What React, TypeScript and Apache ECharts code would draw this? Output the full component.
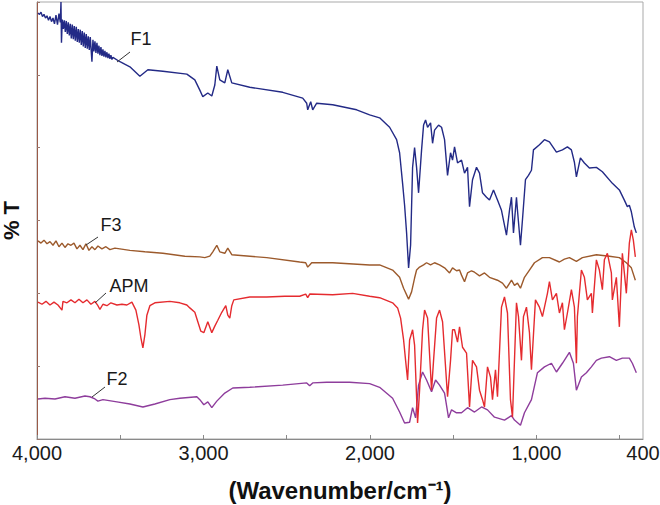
import React, { useEffect, useRef } from 'react';
import * as echarts from 'echarts';

// x = wavenumber (cm-1), y = %T (arbitrary offset units)
const xTickValues = [4000, 3500, 3000, 2500, 2000, 1500, 1000, 500];
const xLabelValues = [4000, 3000, 2000, 1000, 360];
const seriesNames = ['F1', 'F3', 'APM', 'F2'];

const f1Data: [number, number][] = [
  [3994, 58.5], [3985, 58.3], [3976, 58.6], [3967, 58.0], [3958, 58.3], [3949, 57.8], [3940, 58.1],
  [3931, 57.5], [3922, 58.0], [3913, 57.3], [3904, 57.8], [3895, 57.0], [3886, 58.2], [3877, 56.9],
  [3868, 58.4], [3860, 57.2], [3856, 60.0], [3853, 54.4], [3848, 57.6], [3842, 56.3], [3836, 57.5],
  [3830, 55.9], [3824, 57.4], [3818, 55.6], [3812, 57.2], [3806, 55.4], [3800, 57.0], [3794, 55.0],
  [3788, 56.9], [3782, 54.9], [3776, 56.7], [3770, 54.7], [3764, 56.6], [3758, 54.5], [3752, 56.3],
  [3746, 54.4], [3740, 56.2], [3734, 54.1], [3728, 56.0], [3722, 53.9], [3716, 55.8], [3710, 53.7],
  [3704, 55.6], [3698, 53.6], [3692, 55.3], [3686, 53.4], [3680, 55.2], [3670, 51.8], [3664, 54.8],
  [3658, 53.2], [3652, 54.6], [3646, 53.0], [3640, 54.4], [3634, 52.9], [3628, 54.0], [3622, 52.7],
  [3616, 53.8], [3610, 52.6], [3604, 53.5], [3598, 52.5], [3592, 53.3], [3586, 52.4], [3580, 53.1],
  [3574, 52.3], [3568, 52.9], [3562, 52.2], [3556, 52.7], [3550, 52.1], [3544, 52.4],
  [3502, 51.8], [3442, 51.1], [3382, 49.8], [3334, 50.7], [3244, 50.5],
  [3100, 50.1], [3052, 49.3], [3022, 47.9], [3004, 47.0], [2974, 47.5], [2950, 47.1], [2932, 48.6],
  [2920, 51.2], [2902, 49.3], [2872, 48.9], [2854, 50.7], [2830, 48.9], [2722, 48.3], [2524, 47.6],
  [2404, 46.8], [2380, 46.1], [2374, 45.2], [2356, 46.3], [2344, 45.2], [2320, 46.1], [2224, 45.9],
  [2080, 45.2], [2002, 44.5], [1942, 44.1], [1882, 42.8], [1840, 41.1], [1822, 39.3], [1804, 35.1],
  [1792, 32.1], [1780, 28.3], [1768, 23.5], [1756, 26.6], [1744, 37.3], [1732, 40.0], [1720, 37.3],
  [1708, 33.8], [1690, 39.7], [1678, 43.1], [1666, 43.8], [1654, 42.8], [1636, 43.4], [1624, 40.6],
  [1612, 42.4], [1588, 43.1], [1570, 42.8], [1552, 41.1], [1534, 36.2], [1516, 39.3], [1504, 38.3],
  [1492, 40.1], [1474, 37.9], [1450, 38.3], [1432, 36.5], [1414, 37.3], [1402, 31.9], [1384, 35.6],
  [1360, 37.3], [1342, 36.5], [1324, 33.8], [1300, 33.2], [1282, 32.8], [1258, 34.2], [1234, 32.8],
  [1210, 31.4], [1180, 28.0], [1162, 31.4], [1150, 33.2], [1138, 28.3], [1120, 33.2], [1114, 31.4],
  [1096, 26.6], [1084, 30.1], [1066, 35.6], [1048, 36.2], [1030, 36.9], [1018, 39.7], [982, 40.4],
  [952, 41.1], [922, 40.8], [880, 39.4], [844, 39.7], [814, 40.1], [790, 39.7], [772, 38.0],
  [760, 36.0], [736, 38.6], [712, 37.9], [682, 37.2], [640, 37.3], [604, 36.7], [544, 35.1],
  [502, 34.2], [472, 32.8], [454, 31.9], [442, 32.1], [430, 31.2], [412, 29.1], [400, 28.3],
];

const f3Data: [number, number][] = [
  [3994, 27.2], [3976, 26.9], [3958, 27.3], [3940, 26.8], [3922, 27.1], [3904, 26.6], [3886, 27.2],
  [3868, 26.4], [3850, 26.9], [3832, 26.3], [3814, 26.8], [3796, 26.6], [3778, 26.9], [3760, 26.1],
  [3742, 26.6], [3724, 26.0], [3706, 26.8], [3688, 25.9], [3670, 26.4], [3652, 26.0], [3634, 26.5],
  [3610, 26.1], [3586, 26.4], [3562, 26.0], [3532, 26.2], [3502, 26.1], [3442, 25.9], [3352, 25.7],
  [3244, 25.5], [3112, 25.1], [3022, 25.0], [2992, 24.9], [2962, 25.1], [2944, 25.7], [2920, 26.6],
  [2902, 25.7], [2872, 25.5], [2854, 26.2], [2830, 25.3], [2620, 24.9], [2422, 24.3], [2386, 24.2],
  [2374, 23.6], [2362, 23.9], [2350, 24.2], [2224, 24.2], [2002, 23.9], [1942, 23.9], [1864, 23.2],
  [1822, 22.2], [1798, 20.7], [1768, 19.2], [1750, 20.2], [1732, 22.1], [1720, 23.2], [1702, 23.6],
  [1678, 23.9], [1660, 24.2], [1636, 23.9], [1612, 24.2], [1582, 23.9], [1552, 23.5], [1522, 22.8],
  [1504, 23.5], [1480, 23.1], [1462, 23.2], [1450, 22.5], [1432, 21.6], [1414, 22.8], [1390, 23.1],
  [1372, 22.9], [1342, 22.4], [1312, 22.8], [1282, 22.2], [1234, 21.8], [1204, 21.4], [1180, 20.7],
  [1150, 21.8], [1132, 21.1], [1114, 21.4], [1096, 20.7], [1072, 22.2], [1042, 23.2], [1012, 24.2],
  [964, 24.9], [922, 24.9], [862, 24.3], [832, 24.7], [802, 24.9], [760, 24.4], [724, 24.9],
  [640, 25.3], [562, 25.1], [502, 24.9], [460, 24.2], [430, 23.5], [406, 21.8],
];

const apmData: [number, number][] = [
  [3994, 18.8], [3970, 18.5], [3946, 18.9], [3922, 18.4], [3898, 18.8], [3874, 18.4], [3850, 17.7],
  [3844, 18.9], [3820, 18.7], [3796, 19.1], [3772, 18.7], [3748, 19.2], [3724, 18.7], [3700, 19.1],
  [3676, 18.5], [3652, 18.9], [3634, 18.3], [3622, 17.8], [3604, 18.5], [3580, 18.3], [3556, 18.7],
  [3520, 18.4], [3490, 18.5], [3460, 18.4], [3430, 18.8], [3406, 17.7], [3388, 15.7], [3376, 13.9],
  [3364, 12.5], [3352, 14.3], [3340, 17.0], [3322, 18.3], [3292, 18.7], [3202, 18.9], [3142, 18.7],
  [3100, 18.4], [3082, 18.0], [3052, 17.4], [3034, 16.1], [3016, 14.8], [2998, 14.6], [2974, 16.1],
  [2950, 14.6], [2932, 15.5], [2914, 16.3], [2890, 17.4], [2866, 18.3], [2854, 17.0], [2842, 16.6],
  [2830, 18.3], [2818, 19.1], [2722, 19.5], [2620, 19.5], [2512, 19.6], [2422, 19.6], [2386, 19.9],
  [2374, 19.4], [2362, 19.9], [2224, 19.8], [2104, 20.0], [2002, 19.6], [1942, 19.4], [1864, 18.7],
  [1834, 18.0], [1816, 16.6], [1798, 13.6], [1786, 10.8], [1774, 8.1], [1762, 13.6], [1744, 15.0],
  [1732, 12.9], [1714, 2.2], [1702, 6.7], [1684, 15.0], [1672, 17.7], [1654, 16.6], [1630, 6.7],
  [1618, 10.8], [1600, 16.6], [1582, 17.7], [1564, 16.1], [1534, 5.8], [1516, 10.8], [1504, 15.0],
  [1492, 15.0], [1474, 13.3], [1462, 15.4], [1444, 12.6], [1420, 11.8], [1402, 4.4], [1384, 10.8],
  [1360, 9.9], [1342, 6.7], [1324, 5.4], [1312, 4.4], [1294, 9.9], [1276, 8.5], [1264, 5.4],
  [1246, 9.5], [1234, 5.8], [1210, 18.1], [1192, 19.5], [1174, 17.3], [1156, 5.4], [1144, 3.0],
  [1132, 10.8], [1120, 18.7], [1108, 16.8], [1090, 10.8], [1078, 16.8], [1060, 18.1], [1042, 14.6],
  [1030, 9.5], [1006, 19.1], [982, 18.1], [964, 16.8], [934, 20.0], [922, 21.6], [904, 19.1],
  [880, 20.0], [862, 17.3], [844, 18.7], [832, 15.0], [814, 17.3], [790, 20.5], [772, 18.1],
  [760, 10.4], [754, 16.8], [730, 23.2], [712, 22.2], [694, 19.1], [670, 20.0], [664, 17.3],
  [640, 24.6], [622, 23.2], [604, 20.5], [592, 24.6], [574, 25.5], [550, 22.8], [544, 19.1],
  [520, 22.2], [502, 15.4], [484, 25.5], [472, 22.8], [460, 20.0], [442, 26.9], [430, 28.7],
  [418, 27.3], [406, 25.0],
];

const f2Data: [number, number][] = [
  [3994, 5.5], [3952, 5.6], [3892, 5.5], [3832, 5.8], [3772, 5.6], [3712, 5.9], [3682, 5.8],
  [3652, 5.5], [3634, 5.2], [3604, 5.4], [3520, 5.1], [3442, 4.8], [3364, 4.4], [3292, 4.8],
  [3202, 5.4], [3142, 5.6], [3040, 5.8], [3022, 5.4], [2998, 4.7], [2974, 5.1], [2950, 4.3],
  [2920, 5.2], [2872, 6.3], [2824, 7.0], [2722, 7.1], [2524, 7.4], [2380, 7.7], [2362, 7.3],
  [2344, 7.7], [2260, 7.8], [2122, 7.8], [2002, 7.6], [1942, 7.1], [1864, 5.6], [1822, 3.7],
  [1792, 2.2], [1762, 2.3], [1744, 4.3], [1726, 2.9], [1708, 7.4], [1684, 9.2], [1660, 8.1],
  [1630, 6.5], [1606, 8.1], [1582, 7.4], [1552, 6.3], [1528, 2.9], [1510, 4.0], [1480, 3.6],
  [1450, 3.6], [1414, 4.3], [1372, 3.7], [1330, 4.4], [1294, 4.0], [1252, 3.0], [1192, 2.6],
  [1150, 3.2], [1132, 2.6], [1096, 1.9], [1072, 3.6], [1030, 5.4], [994, 9.1], [952, 9.9],
  [910, 10.4], [880, 9.2], [844, 10.4], [802, 11.9], [778, 10.4], [760, 6.7], [730, 8.5],
  [700, 9.1], [670, 9.9], [640, 10.8], [610, 11.1], [562, 11.3], [520, 10.8], [484, 11.1],
  [442, 11.1], [424, 10.4], [400, 9.1],
];

const seriesColors = ['#232a86', '#9c5a2c', '#e52b2f', '#8e3d9c'];
const FONT = '"Liberation Sans", Arial, Helvetica, sans-serif';

export default function App() {
  const ref = useRef<HTMLDivElement>(null);

  useEffect(() => {
    if (!ref.current) return;
    const chart = echarts.init(ref.current, null, { renderer: 'svg' });
    const datasets = [f1Data, f3Data, apmData, f2Data];
    const labelSpecs = [
      { text: seriesNames[0], tx: 141, ty: 39, x1: 117, y1: 62, x2: 130, y2: 52 },
      { text: seriesNames[1], tx: 111, ty: 225, x1: 86, y1: 245, x2: 98, y2: 237 },
      { text: seriesNames[2], tx: 129, ty: 286, x1: 95, y1: 303, x2: 106, y2: 293 },
      { text: seriesNames[3], tx: 117, ty: 379, x1: 92, y1: 397, x2: 105, y2: 387 },
    ];
    const graphics: any[] = [];
    labelSpecs.forEach((l) => {
      graphics.push({
        type: 'line',
        shape: { x1: l.x1, y1: l.y1, x2: l.x2, y2: l.y2 },
        style: { stroke: '#333', lineWidth: 1 },
        z: 100,
      });
      graphics.push({
        type: 'text',
        x: l.tx,
        y: l.ty,
        style: {
          text: l.text,
          fontSize: 18,
          fontFamily: FONT,
          fill: '#1a1a1a',
          textAlign: 'center',
          textVerticalAlign: 'middle',
        },
        z: 100,
      });
    });

    chart.setOption({
      animation: false,
      textStyle: { fontFamily: FONT },
      grid: {
        left: 37,
        right: 17,
        top: 2,
        bottom: 66,
        containLabel: false,
        outerBoundsMode: 'none',
        show: true,
        borderColor: '#a9a9a9',
        borderWidth: 1,
        backgroundColor: 'transparent',
      },
      xAxis: {
        type: 'value',
        inverse: true,
        min: 360,
        max: 4000,
        name: '(Wavenumber/cm⁻¹)',
        nameLocation: 'middle',
        nameGap: 39,
        nameTextStyle: { fontSize: 24, fontWeight: 'bold', color: '#111', fontFamily: FONT },
        axisLine: { show: true, lineStyle: { color: '#8a8a8a', width: 1 } },
        axisTick: {
          show: true,
          inside: true,
          length: 4,
          customValues: xTickValues,
          lineStyle: { color: '#8a8a8a' },
        },
        axisLabel: {
          show: true,
          customValues: xLabelValues,
          margin: 4,
          fontSize: 20,
          color: '#1a1a1a',
          fontFamily: FONT,
          showMinLabel: true,
          showMaxLabel: true,
          formatter: (v: number) => (v === 360 ? '400' : v.toLocaleString('en-US')),
        },
        splitLine: { show: false },
      },
      yAxis: {
        type: 'value',
        min: 0,
        max: 60,
        interval: 10,
        name: '% T',
        nameLocation: 'middle',
        nameGap: 15,
        nameRotate: 90,
        nameTextStyle: { fontSize: 22, fontWeight: 'bold', color: '#111', fontFamily: FONT },
        axisLine: { show: true, lineStyle: { color: '#9a5a48', width: 1 } },
        axisTick: { show: true, inside: true, length: 3, lineStyle: { color: '#9a7a70' } },
        axisLabel: { show: false },
        splitLine: { show: false },
      },
      tooltip: { show: false },
      series: datasets.map((d, i) => ({
        name: seriesNames[i],
        type: 'line',
        data: d,
        showSymbol: false,
        symbol: 'none',
        lineStyle: { color: seriesColors[i], width: 1.4 },
        z: i === 2 ? 4 : 2,
      })),
      graphic: graphics,
    });
    return () => chart.dispose();
  }, []);

  return (
    <div
      ref={ref}
      style={{ position: 'absolute', left: 0, top: 0, width: 660, height: 505 }}
    />
  );
}
